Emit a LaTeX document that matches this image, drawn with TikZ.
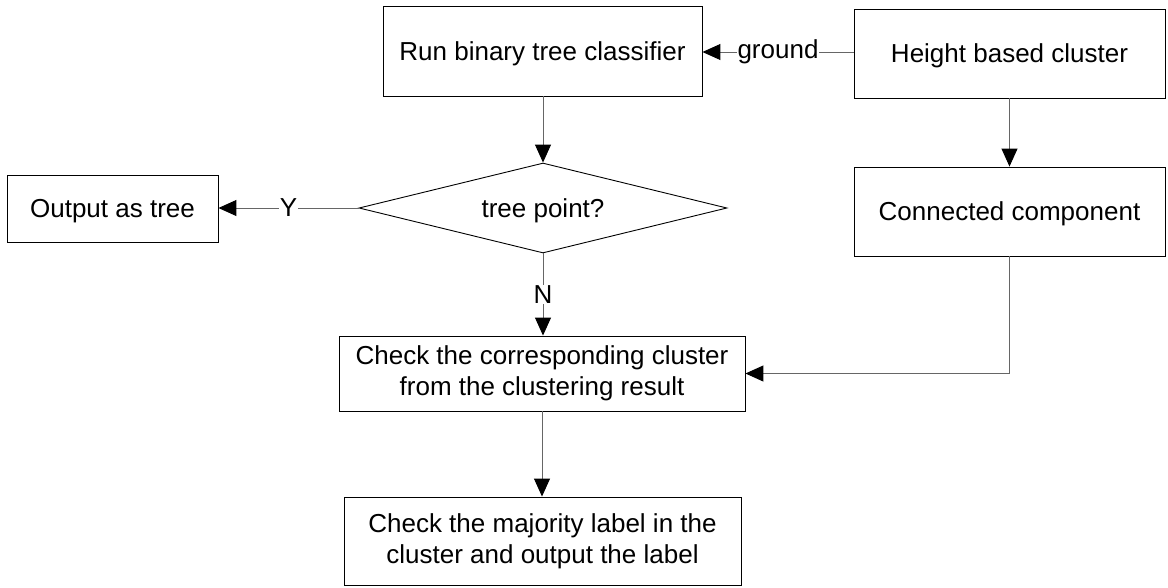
\documentclass[tikz,border=0pt]{standalone}
\usepackage{fontspec}
\setmainfont{Liberation Sans}
\usetikzlibrary{shapes.geometric,arrows.meta}

\tikzset{
  procbox/.style={draw=black, line width=0.9pt, inner sep=0pt, align=center,
    font=\fontsize{26}{31}\selectfont},
  onerow/.style={text depth=0pt},
  decision/.style={draw=black, line width=0.9pt, diamond, inner sep=0pt,
    aspect=4.09, text depth=0pt, font=\fontsize{26}{31}\selectfont},
  flow/.style={draw=black!60, line width=1pt,
    -{Triangle[length=18pt,width=16pt,color=black]}},
  flowlabel/.style={fill=white, inner sep=1pt, font=\fontsize{26}{31}\selectfont}
}

\begin{document}
\begin{tikzpicture}[x=1pt,y=-1pt]
  \useasboundingbox (0,0) rectangle (1168,587);

  % process boxes
  \node[procbox, onerow, minimum width=319pt, minimum height=90pt] (run) at (542.5,51)
    {Run binary tree classifier};
  \node[procbox, onerow, minimum width=311pt, minimum height=89pt] (height) at (1009.5,53.5)
    {Height based cluster};
  \node[procbox, onerow, minimum width=311pt, minimum height=89pt] (conn) at (1009.5,211.5)
    {Connected component};
  \node[procbox, onerow, minimum width=211pt, minimum height=67pt] (out) at (112.5,208.5)
    {Output as tree};
  \node[procbox, minimum width=406pt, minimum height=75pt] (check) at (542,373.5)
    {Check the corresponding cluster\\from the clustering result};
  \node[procbox, minimum width=397pt, minimum height=88pt] (maj) at (542.5,541)
    {Check the majority label in the\\cluster and output the label};

  % decision
  \node[decision, minimum width=368pt, minimum height=90pt] (tp) at (543,208)
    {tree point?};

  % connectors
  \draw[flow] (height.west |- 0,52) -- node[flowlabel] {ground} (run.east |- 0,52);
  \draw[flow] (run.south -| tp.north) -- (tp.north);
  \draw[flow] (height.south) -- (conn.north);
  \draw[flow] (tp.west) -- node[flowlabel] {Y} (out.east |- tp.west);
  \draw[flow] (tp.south) -- node[flowlabel] {N} (check.north -| tp.south);
  \draw[flow] (conn.south) |- (check.east);
  \draw[flow] (check.south) -- (maj.north -| check.south);
\end{tikzpicture}
\end{document}
